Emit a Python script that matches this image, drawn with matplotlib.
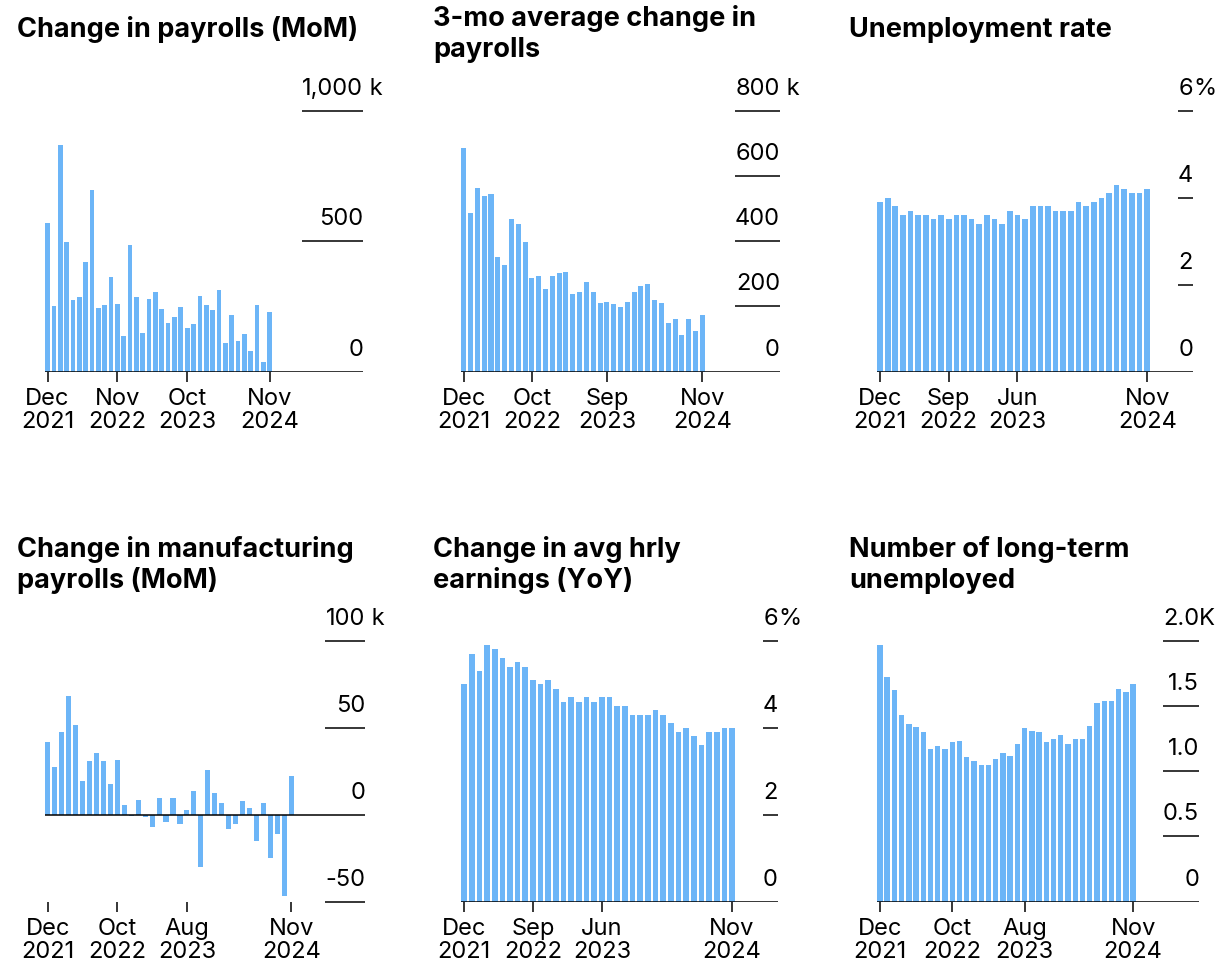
import matplotlib
matplotlib.use("Agg")
from matplotlib import pyplot as plt
from matplotlib import transforms
import numpy as np
import pandas as pd

plt.rcParams["font.family"] = ["Inter", "DejaVu Sans"]

# monthly data, Dec 2021 .. Nov 2024
months = pd.date_range("2021-12-01", periods=36, freq="MS")

payrolls = [570, 252, 868, 497, 274, 287, 422, 695, 245, 256, 364, 260,
            137, 486, 288, 147, 279, 305, 242, 186, 210, 247, 167, 183,
            291, 256, 238, 313, 109, 217, 118, 145, 79, 256, 36, 228]

payrolls_3mo = [687, 485, 563, 538, 544, 351, 327, 467, 452, 397, 287, 292,
                253, 293, 302, 305, 238, 243, 275, 243, 212, 213, 208, 199,
                213, 245, 263, 268, 220, 211, 148, 160, 114, 160, 124, 174]

unemp_rate = [3.9, 4.0, 3.8, 3.6, 3.7, 3.6, 3.6, 3.5, 3.6, 3.5, 3.6, 3.6,
              3.5, 3.4, 3.6, 3.5, 3.4, 3.7, 3.6, 3.5, 3.8, 3.8, 3.8, 3.7,
              3.7, 3.7, 3.9, 3.8, 3.9, 4.0, 4.1, 4.3, 4.2, 4.1, 4.1, 4.2]

manuf_payrolls = [41.5, 27.6, 47.6, 68.4, 51.6, 19.6, 30.7, 35.6, 30.7, 17.5, 31.6, 5.5,
                  -1.0, 8.6, -1.5, -7.2, 9.5, -4.4, 9.5, -5.3, 2.7, 13.5, -30.1, 25.5,
                  12.6, 6.5, -8.4, -5.3, 7.6, 3.6, -15.2, 6.5, -25.1, -11.2, -47.0, 22.5]

hourly_earnings = [5.0, 5.7, 5.3, 5.9, 5.8, 5.6, 5.4, 5.5, 5.4, 5.1, 5.0, 5.1,
                   4.9, 4.6, 4.7, 4.6, 4.7, 4.6, 4.7, 4.7, 4.5, 4.5, 4.3, 4.3,
                   4.3, 4.4, 4.3, 4.1, 3.9, 4.0, 3.8, 3.6, 3.9, 3.9, 4.0, 4.0]

long_term_unemp = [1.97, 1.72, 1.62, 1.43, 1.36, 1.34, 1.30, 1.17, 1.19, 1.17, 1.22, 1.23,
                   1.11, 1.08, 1.05, 1.05, 1.09, 1.14, 1.12, 1.21, 1.33, 1.31, 1.30, 1.22,
                   1.25, 1.28, 1.21, 1.25, 1.25, 1.35, 1.52, 1.54, 1.54, 1.63, 1.61, 1.67]

titles = [
    ["Change in payrolls (MoM)"],
    ["3-mo average change in", "payrolls"],
    ["Unemployment rate"],
    ["Change in manufacturing", "payrolls (MoM)"],
    ["Change in avg hrly", "earnings (YoY)"],
    ["Number of long-term", "unemployed"],
]
series = [payrolls, payrolls_3mo, unemp_rate, manuf_payrolls, hourly_earnings, long_term_unemp]

tick_months = [
    ["2021-12", "2022-11", "2023-10", "2024-11"],
    ["2021-12", "2022-10", "2023-09", "2024-11"],
    ["2021-12", "2022-09", "2023-06", "2024-11"],
    ["2021-12", "2022-10", "2023-08", "2024-11"],
    ["2021-12", "2022-09", "2023-06", "2024-11"],
    ["2021-12", "2022-10", "2023-08", "2024-11"],
]
y_ticks = [
    [0, 500, 1000],
    [0, 200, 400, 600, 800],
    [0, 2, 4, 6],
    [-50, 0, 50, 100],
    [0, 2, 4, 6],
    [0, 0.5, 1.0, 1.5, 2.0],
]
y_labels = [
    ["0", "500", "1,000"],
    ["0", "200", "400", "600", "800"],
    ["0", "2", "4", "6"],
    ["-50", "0", "50", "100"],
    ["0", "2", "4", "6"],
    ["0", "0.5", "1.0", "1.5", "2.0"],
]
y_units = [" k", " k", "%", " k", "%", "K"]

# layout in pixels: axes left, right, top, bottom, right x-limit (bar units)
W, H = 1224, 976
layout = [
    (45, 363, 110.7, 371.7, 49.7),
    (461, 780, 110.7, 371.7, 46.4),
    (877, 1193, 110.7, 371.7, 41.0),
    (45, 365, 640.7, 901.7, 45.6),
    (461, 778, 640.7, 901.7, 41.0),
    (877, 1199, 640.7, 901.7, 44.1),
]
title_pos = [(17, [37.3]), (433, [26, 57]), (849, [37.3]),
             (17, [557.3, 588]), (433, [557.3, 588]), (849, [557.3, 588])]

bar_color = "#6cb5f7"
label_size = 17
title_size = 19.5
fig = plt.figure(figsize=(W / 100, H / 100), dpi=100)

axes = []
for i in range(6):
    l, r, t, b, xr = layout[i]
    ax = fig.add_axes([l / W, 1 - b / H, (r - l) / W, (b - t) / H])
    x = np.arange(len(months))
    ax.bar(x, series[i], width=0.74, color=bar_color, edgecolor="none", zorder=2)
    ax.set_xlim(-0.4, xr)
    ax.set_ylim(y_ticks[i][0], y_ticks[i][-1])
    for s in ax.spines.values():
        s.set_visible(False)
    ax.yaxis.set_visible(False)

    pos = [months.get_loc(pd.Timestamp(m + "-01")) for m in tick_months[i]]
    labs = [f"{months[p]:%b}\n{months[p]:%Y}" for p in pos]
    ax.set_xticks(pos, labs)
    ax.tick_params(axis="x", length=7.5, width=1.1, pad=4, labelsize=label_size,
                   color="black", direction="out")
    for lab in ax.get_xticklabels():
        lab.set_linespacing(1.1)

    ax.axhline(0, color="black", lw=1.1, zorder=3)

    off = transforms.offset_copy(ax.transData, fig=fig, y=16, units="dots")
    num_texts = []
    for v, s in zip(y_ticks[i], y_labels[i]):
        tx = ax.text(xr, v, s, transform=off, ha="right", va="baseline",
                     fontsize=label_size, clip_on=False)
        num_texts.append(tx)
    top = y_ticks[i][-1]
    ax.text(xr, top, y_units[i], transform=off, ha="left", va="baseline",
            fontsize=label_size, clip_on=False)
    axes.append((ax, num_texts))

    tx0, ys = title_pos[i]
    for line, yb in zip(titles[i], ys):
        fig.text(tx0 / W, 1 - yb / H, line, fontsize=title_size, fontweight="bold",
                 ha="left", va="baseline")

fig.canvas.draw()
renderer = fig.canvas.get_renderer()
for i, (ax, num_texts) in enumerate(axes):
    x0 = min(t.get_window_extent(renderer).x0 for t in num_texts)
    x0d = ax.transData.inverted().transform((x0, 0))[0]
    xr = layout[i][4]
    for v in y_ticks[i]:
        if v == 0:
            continue
        ax.plot([x0d, xr], [v, v], color="black", lw=1.1, clip_on=False,
                solid_capstyle="butt", zorder=3)

fig.savefig("out.png", dpi=100)
